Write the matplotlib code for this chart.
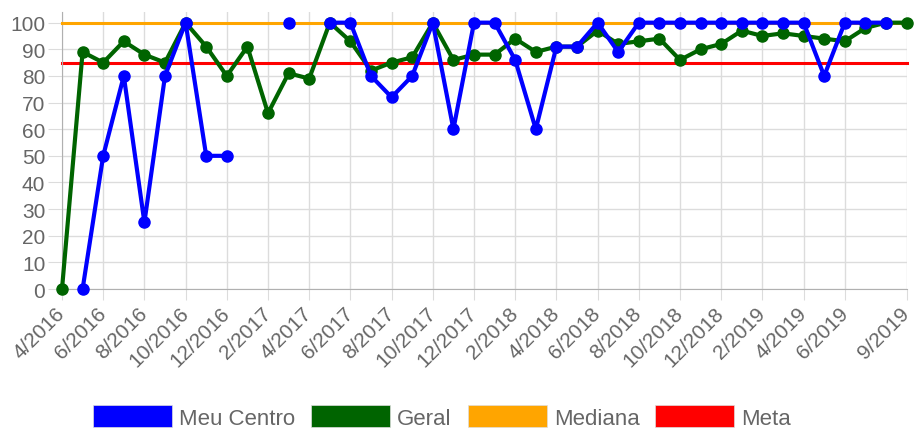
import numpy as np
import matplotlib
matplotlib.use('agg')
import matplotlib.pyplot as plt
from matplotlib.patches import Patch

# monthly labels 4/2016 .. 9/2019
months = ['%d/%d' % (m, y) for y in range(2016, 2020) for m in range(1, 13)]
months = months[months.index('4/2016'):months.index('9/2019') + 1]

nan = np.nan
meu_centro = [nan, 0, 50, 80, 25, 80, 100, 50, 50, nan, nan, 100, nan, 100, 100,
              80, 72, 80, 100, 60, 100, 100, 86, 60, 91, 91, 100, 89, 100, 100,
              100, 100, 100, 100, 100, 100, 100, 80, 100, 100, 100, nan]
geral = [0, 89, 85, 93, 88, 85, 100, 91, 80, 91, 66, 81, 79, 100, 93,
         82, 85, 87, 100, 86, 88, 88, 94, 89, 91, 91, 97, 92, 93, 94,
         86, 90, 92, 97, 95, 96, 95, 94, 93, 98, 100, 100]
mediana = [100] * len(months)
meta = [85] * len(months)

series_names = ['Meu Centro', 'Geral', 'Mediana', 'Meta']
colors = ['#0000ff', '#006400', '#ffa500', '#ff0000']

plt.rcParams['font.family'] = ['Liberation Sans', 'DejaVu Sans']
grey = '#666666'

fig = plt.figure(figsize=(9.16, 4.31), dpi=100)
ax = fig.add_axes([62 / 916, 1 - 290 / 431, (906.6 - 62) / 916, (290 - 13) / 431])

x = np.arange(len(months))
ax.plot(x, meta, color=colors[3], lw=2.2, zorder=2, clip_on=False)
ax.plot(x, mediana, color=colors[2], lw=2.2, zorder=3, clip_on=False)
ax.plot(x, geral, color=colors[1], lw=3, marker='o', ms=8, zorder=4, clip_on=False)
ax.plot(x, meu_centro, color=colors[0], lw=3, marker='o', ms=8, zorder=5, clip_on=False)

ax.set_xlim(0, len(months) - 1)
ax.set_ylim(0, 104)
ax.set_yticks(range(0, 101, 10))
ticks = list(range(0, len(months) - 2, 2)) + [len(months) - 1]
ax.set_xticks(ticks)
ax.set_xticklabels([months[i] for i in ticks], rotation=45, ha='right', va='center',
                   rotation_mode='anchor')
ax.tick_params(axis='x', length=8, color='#dcdcdc', labelsize=15, labelcolor=grey, pad=7)
ax.tick_params(axis='y', length=10, color='#dcdcdc', labelsize=15, labelcolor=grey, pad=2)
ax.grid(True, color='#dcdcdc', lw=1)
ax.set_axisbelow(True)
for s in ['top', 'right']:
    ax.spines[s].set_visible(False)
for s in ['left', 'bottom']:
    ax.spines[s].set_color('#b0b0b0')

handles = [Patch(facecolor=c, edgecolor='#dddddd', lw=0.5) for c in colors]
leg = fig.legend(handles, series_names, loc='lower left', bbox_to_anchor=(73 / 916, -0.044),
                 ncol=4, frameon=False, fontsize=16, handlelength=3.55, handleheight=1.15,
                 handletextpad=0.32, columnspacing=0.72, labelcolor=grey)

fig.savefig('out.png', dpi=100)
